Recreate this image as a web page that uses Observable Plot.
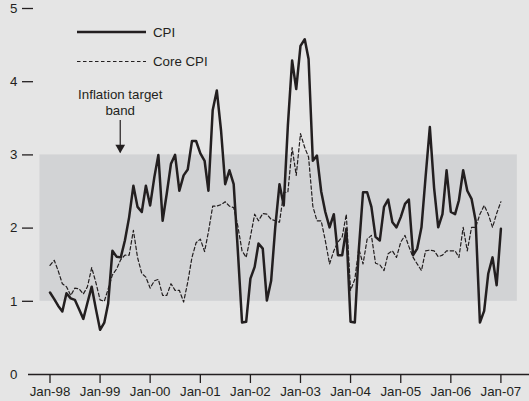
<!DOCTYPE html>
<html><head><meta charset="utf-8">
<script src="https://cdn.jsdelivr.net/npm/d3@7"></script>
<script src="https://cdn.jsdelivr.net/npm/@observablehq/plot@0.6"></script>
<style>
html,body{margin:0;padding:0;background:#e5e5e5;}
#chart{width:529px;height:401px;position:relative;}
</style></head><body><div id="chart"></div>
<script>
// Monthly series, Jan-98 .. Jan-07 (per cent)
const cpi = [
  1.12,1.03,0.94,0.86,1.11,1.04,1.02,0.89,0.76,0.98,1.2,0.9,
  0.61,0.71,0.97,1.69,1.61,1.6,1.83,2.15,2.58,2.29,2.22,2.58,
  2.31,2.7,3.0,2.1,2.47,2.88,3.0,2.51,2.72,2.8,3.19,3.19,
  3.02,2.92,2.51,3.61,3.88,3.33,2.6,2.79,2.6,1.7,0.71,0.72,
  1.31,1.47,1.79,1.72,1.01,1.28,2.01,2.6,2.31,3.4,4.29,3.9,
  4.49,4.58,4.31,2.92,2.99,2.5,2.22,2.01,2.19,1.63,1.63,1.99,
  0.72,0.71,1.7,2.49,2.49,2.29,1.88,1.83,2.29,2.39,2.08,2.01,
  2.15,2.33,2.39,1.63,1.72,2.01,2.7,3.38,2.55,2.01,2.19,2.79,
  2.22,2.19,2.38,2.79,2.51,2.4,2.1,0.71,0.87,1.38,1.6,1.22,
  1.99
];
const coreCpi = [
  1.49,1.56,1.42,1.24,1.2,1.08,1.18,1.17,1.1,1.2,1.46,1.26,
  1.02,1.0,1.17,1.36,1.44,1.57,1.63,1.63,1.97,1.6,1.38,1.33,
  1.18,1.28,1.3,1.08,1.08,1.24,1.15,1.15,0.99,1.26,1.6,1.8,
  1.85,1.68,1.95,2.3,2.3,2.32,2.36,2.3,2.28,2.03,1.69,1.6,
  1.88,2.19,2.1,2.2,2.19,2.12,2.1,2.08,2.49,2.49,3.1,2.72,
  3.29,3.1,2.97,2.3,2.1,2.1,1.83,1.51,1.69,1.81,1.88,2.19,
  1.15,1.3,1.72,1.51,1.85,1.9,1.52,1.5,1.42,1.65,1.69,1.6,
  1.81,1.9,1.75,1.6,1.51,1.42,1.69,1.7,1.69,1.61,1.63,1.69,
  1.69,1.69,1.6,2.01,1.69,2.01,2.01,2.19,2.31,2.19,2.01,2.2,
  2.36
];
const seriesNames = ["CPI", "Core CPI"];
const yTickValues = [1, 2, 3, 4, 5];
const yZeroTick = [0];
const xTickYears = [1998,1999,2000,2001,2002,2003,2004,2005,2006,2007];
const band = [{low: 1, high: 3, start: new Date(Date.UTC(1997, 9, 20)), end: new Date(Date.UTC(2007, 4, 1))}];
const annotation = [{date: new Date(Date.UTC(1999, 4, 28)), label: "Inflation target\nband", textY: 3.73, arrowFrom: 3.47, arrowTo: 3.03, headY: 3.1}];

const ink = "#231f20";
const dates = cpi.map((_, i) => new Date(Date.UTC(1998, i, 1)));
const data = dates.map((date, i) => ({date, cpi: cpi[i], core: coreCpi[i]}));
const xTicks = xTickYears.map(y => new Date(Date.UTC(y, 0, 1)));

const chart = Plot.plot({
  width: 529, height: 401,
  marginLeft: 28, marginRight: 0, marginTop: 8, marginBottom: 27,
  style: {background: "#e5e5e5", fontFamily: "'Liberation Sans', Arial, sans-serif", fontSize: "13.3px", color: ink, overflow: "visible"},
  x: {type: "utc", domain: [xTicks[0], xTicks[xTicks.length - 1]], range: [49.5, 500.4]},
  y: {domain: [0, 5], range: [374, 8]},
  marks: [
    Plot.rect(band, {x1: "start", x2: "end", y1: "low", y2: "high", fill: "#d2d3d5"}),
    Plot.ruleY([0], {stroke: ink, strokeWidth: 1.3}),
    Plot.axisX(xTicks, {tickSize: 9, tickPadding: 3, tickFormat: d3.utcFormat("%b-%y"), label: null, stroke: ink, strokeWidth: 1.3, fill: ink}),
    Plot.axisY(yTickValues, {tickSize: 11, tickPadding: 5, dx: 5, tickFormat: d3.format("d"), label: null, stroke: ink, strokeWidth: 1.3, fill: ink}),
    Plot.axisY(yZeroTick, {tickSize: 0, tickPadding: 16, dx: 5, tickFormat: d3.format("d"), label: null, fill: ink}),
    Plot.lineY(data, {x: "date", y: "core", stroke: ink, strokeWidth: 1.2, strokeDasharray: "3.5,2.5"}),
    Plot.lineY(data, {x: "date", y: "cpi", stroke: ink, strokeWidth: 2.5, strokeLinejoin: "round"}),
    Plot.text(annotation, {x: "date", y: "textY", text: "label", fill: ink, lineHeight: 1.2}),
    Plot.ruleX(annotation, {x: "date", y1: "arrowFrom", y2: "arrowTo", stroke: ink, strokeWidth: 1.2}),
    Plot.dot(annotation, {x: "date", y: "headY", symbol: "triangle", rotate: 180, r: 3.6, fill: ink, stroke: null})
  ]
});
document.getElementById("chart").appendChild(chart);

// Legend (inside the plot, top-left)
const svg = d3.select(chart);
const legend = svg.append("g")
  .attr("font-family", "'Liberation Sans', Arial, sans-serif")
  .attr("font-size", "13.3px").attr("fill", ink).attr("text-anchor", "start");
const legendStyles = [{w: 2.5, dash: null}, {w: 1.2, dash: "3.5,2.5"}];
seriesNames.forEach((name, i) => {
  const y = 32 + i * 29.5;
  legend.append("line").attr("x1", 77).attr("x2", 146).attr("y1", y).attr("y2", y)
    .attr("stroke", ink).attr("stroke-width", legendStyles[i].w)
    .attr("stroke-dasharray", legendStyles[i].dash);
  legend.append("text").attr("x", 153).attr("y", y).attr("dy", "0.35em")
    .attr("text-anchor", "start").text(name);
});
</script>
</body></html>
